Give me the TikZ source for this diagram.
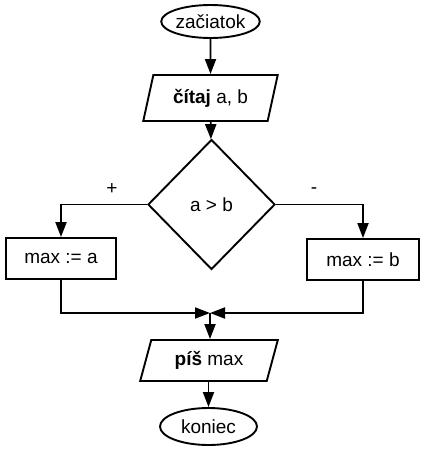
\documentclass[tikz,border=0pt]{standalone}
\usepackage{fontspec}
\setmainfont{Liberation Sans}
\usetikzlibrary{shapes.geometric,arrows.meta}
\begin{document}
\begin{tikzpicture}[x=1pt,y=-1pt,
  every node/.style={font=\fontsize{19}{21}\selectfont, inner sep=0pt},
  arr/.style={line width=1.9pt,-{Triangle[length=15pt,width=11pt]}},
  term/.style={draw,ellipse,line width=1.9pt},
  io/.style={draw,trapezium,trapezium left angle=70,trapezium right angle=110,trapezium stretches=true,line width=1.9pt},
  proc/.style={draw,rectangle,line width=1.9pt},
  dec/.style={draw,diamond,line width=1.9pt}]
\useasboundingbox (0,0) rectangle (426,455);
\node[term,minimum width=95pt,minimum height=33pt] (start) at (210.5,21.5) {začiatok};
\node[io,minimum width=135pt,minimum height=46pt] (read) at (210.5,98) {\textbf{čítaj} a, b};
\node[dec,minimum width=127pt,minimum height=130pt] (cond) at (211.5,204.5) {a > b};
\node[proc,minimum width=110pt,minimum height=41pt] (pa) at (61,258.5) {max := a};
\node[proc,minimum width=112pt,minimum height=41pt] (pb) at (363,259.5) {max := b};
\coordinate (m) at (210,313);
\node[io,minimum width=138pt,minimum height=41pt] (write) at (209,360.5) {\textbf{píš} max};
\node[term,minimum width=97pt,minimum height=37pt] (end) at (208.5,426.5) {koniec};
\node (plus) at (112,189) {+};
\node (minus) at (314,191) {-};
\draw[arr] (start) -- (read);
\draw[arr] (read) -- (cond);
\draw[arr] (cond.west) -| (pa.north);
\draw[arr] (cond.east) -| (pb.north);
\draw[arr] (pa.south) |- (m);
\draw[arr] (pb.south) |- (m);
\draw[arr] (m) -- (write.north -| m);
\draw[arr] (write.south -| end.north) -- (end.north);
\end{tikzpicture}
\end{document}
